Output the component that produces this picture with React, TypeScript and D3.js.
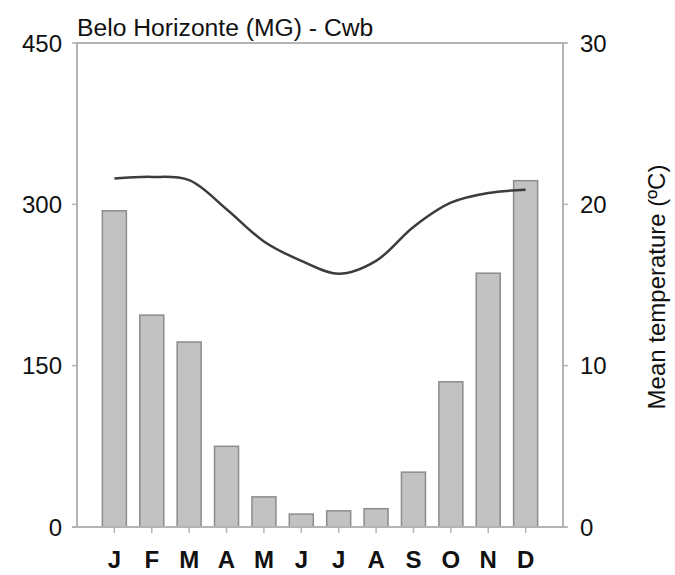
import React from "react";
import * as d3 from "d3";

const months = ["J", "F", "M", "A", "M", "J", "J", "A", "S", "O", "N", "D"];
const precipitation = [294, 197, 172, 75, 28, 12, 15, 17, 51, 135, 236, 322];
const temperature = [21.6, 21.7, 21.5, 19.7, 17.7, 16.5, 15.7, 16.5, 18.6, 20.1, 20.7, 20.9];
const leftTicks = [0, 150, 300, 450];
const rightTicks = [0, 10, 20, 30];
const title = "Belo Horizonte (MG) - Cwb";
const rightLabel = "Mean temperature (ºC)";

export default function App() {
  const W = 675, H = 575;
  const left = 77, right = 563, top = 43, bottom = 527;
  const font = "'Liberation Sans', Arial, sans-serif";
  const idx = months.map((_, i) => String(i));
  const x = d3.scalePoint<string>().domain(idx).range([left, right]).padding(1);
  const yP = d3.scaleLinear().domain([0, 450]).range([bottom, top]);
  const yT = d3.scaleLinear().domain([0, 30]).range([bottom, top]);
  const barW = 24;
  const line = d3
    .line<number>()
    .x((_, i) => x(String(i)) as number)
    .y((d) => yT(d))
    .curve(d3.curveCatmullRom.alpha(0.5));
  const axisColor = "#b4b4b4";
  return (
    <svg width={W} height={H} style={{ position: "absolute", left: 0, top: 0, background: "#fff" }}>
      <rect x={0} y={0} width={W} height={H} fill="#fff" />
      {precipitation.map((v, i) => (
        <rect
          key={i}
          x={(x(String(i)) as number) - barW / 2}
          y={yP(v)}
          width={barW}
          height={bottom - yP(v)}
          fill="#c2c2c2"
          stroke="#8c8c8c"
          strokeWidth={1.5}
        />
      ))}
      <line x1={left} x2={left} y1={top} y2={bottom} stroke={axisColor} strokeWidth={2} />
      <line x1={right} x2={right} y1={top} y2={bottom} stroke={axisColor} strokeWidth={2} />
      <line x1={left - 2} x2={right + 4} y1={top} y2={top} stroke={axisColor} strokeWidth={2} />
      <line x1={left - 5} x2={right + 4} y1={bottom} y2={bottom} stroke={axisColor} strokeWidth={2} />
      {leftTicks.map((t) => (
        <g key={"l" + t}>
          <line x1={left - 5} x2={left} y1={yP(t)} y2={yP(t)} stroke={axisColor} strokeWidth={1.5} />
          <text x={62} y={yP(t)} dy="0.36em" textAnchor="end" fontFamily={font} fontSize={24} fill="#111">
            {t}
          </text>
        </g>
      ))}
      {rightTicks.map((t) => (
        <g key={"r" + t}>
          <line x1={right} x2={right + 5} y1={yT(t)} y2={yT(t)} stroke={axisColor} strokeWidth={1.5} />
          <text x={580} y={yT(t)} dy="0.36em" textAnchor="start" fontFamily={font} fontSize={24} fill="#111">
            {t}
          </text>
        </g>
      ))}
      {months.map((m, i) => (
        <g key={"m" + i}>
          <line
            x1={x(String(i)) as number}
            x2={x(String(i)) as number}
            y1={bottom}
            y2={bottom + 6}
            stroke={axisColor}
            strokeWidth={1.5}
          />
          <text
            x={x(String(i)) as number}
            y={568}
            textAnchor="middle"
            fontFamily={font}
            fontWeight="bold"
            fontSize={24}
            fill="#111"
          >
            {m}
          </text>
        </g>
      ))}
      <path d={line(temperature) || ""} fill="none" stroke="#3c3c3c" strokeWidth={2.5} />
      <text x={77} y={36} fontFamily={font} fontSize={24.7} fill="#111">
        {title}
      </text>
      <text
        transform={`translate(665,287) rotate(-90)`}
        textAnchor="middle"
        fontFamily={font}
        fontSize={24}
        fill="#111"
      >
        {rightLabel}
      </text>
    </svg>
  );
}
